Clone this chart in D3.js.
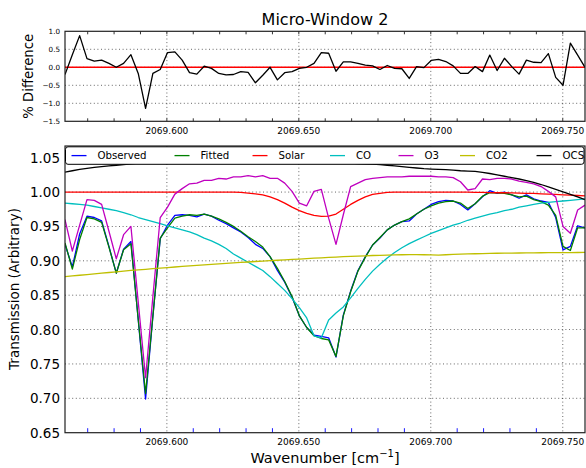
<!DOCTYPE html>
<html><head><meta charset="utf-8">
<script src="https://cdn.jsdelivr.net/npm/d3@7"></script>
<style>
body{margin:0;background:#fff}
svg{display:block}
text{font-family:"DejaVu Sans",sans-serif;fill:#000}
</style>
</head><body>
<svg id="chart" width="586" height="468"></svg>
<script>
// Spectral samples across micro-window 2 (wavenumber, cm^-1)
const wavenumber = [
  2069.56140, 2069.56418, 2069.56695, 2069.56973, 2069.57250, 2069.57528, 2069.57805, 2069.58083,
  2069.58360, 2069.58638, 2069.58915, 2069.59193, 2069.59470, 2069.59748, 2069.60025, 2069.60303,
  2069.60580, 2069.60858, 2069.61135, 2069.61413, 2069.61690, 2069.61968, 2069.62245, 2069.62523,
  2069.62800, 2069.63078, 2069.63355, 2069.63633, 2069.63910, 2069.64188, 2069.64465, 2069.64743,
  2069.65020, 2069.65298, 2069.65575, 2069.65853, 2069.66130, 2069.66408, 2069.66685, 2069.66963,
  2069.67240, 2069.67518, 2069.67795, 2069.68073, 2069.68350, 2069.68628, 2069.68905, 2069.69183,
  2069.69460, 2069.69738, 2069.70015, 2069.70293, 2069.70570, 2069.70848, 2069.71125, 2069.71403,
  2069.71680, 2069.71958, 2069.72235, 2069.72513, 2069.72790, 2069.73068, 2069.73345, 2069.73623,
  2069.73900, 2069.74178, 2069.74455, 2069.74733, 2069.75010, 2069.75288, 2069.75565, 2069.75843
];

// Residual between observed and fitted spectra (%)
const pctDiff = [
  -0.20, 0.35, 0.88, 0.24, 0.17, 0.20, 0.11, 0.00, 0.11, 0.35,
  -0.17, -1.14, -0.17, -0.06, 0.41, 0.43, 0.20, -0.15, -0.19, 0.03,
  -0.03, -0.17, -0.21, -0.20, -0.12, -0.14, -0.43, -0.22, 0.00, -0.35,
  -0.15, -0.12, -0.03, 0.00, 0.11, 0.41, 0.39, -0.11, 0.15, 0.15,
  0.11, 0.06, 0.04, -0.06, 0.05, -0.03, -0.04, -0.31, 0.02, -0.01,
  0.19, 0.22, 0.16, 0.04, -0.17, -0.17, 0.02, -0.12, 0.34, -0.09,
  0.25, 0.02, -0.19, 0.20, 0.14, 0.13, 0.38, -0.28, -0.50, 0.67,
  0.34, 0.00
];

const observed = [
  0.924, 0.891, 0.939, 0.965, 0.963, 0.958, 0.921, 0.882, 0.917, 0.928,
  0.814, 0.699, 0.819, 0.932, 0.952, 0.966, 0.967, 0.966, 0.964, 0.968,
  0.965, 0.959, 0.954, 0.948, 0.942, 0.934, 0.924, 0.918, 0.906, 0.886,
  0.869, 0.847, 0.820, 0.803, 0.792, 0.790, 0.788, 0.760, 0.821, 0.856,
  0.886, 0.906, 0.923, 0.933, 0.945, 0.952, 0.957, 0.958, 0.968, 0.975,
  0.982, 0.986, 0.988, 0.987, 0.982, 0.974, 0.983, 0.993, 1.002, 0.998,
  1.000, 0.996, 0.991, 0.996, 0.990, 0.987, 0.985, 0.963, 0.916, 0.921,
  0.951, 0.948
];

const fitted = [
  0.926, 0.888, 0.931, 0.963, 0.961, 0.956, 0.920, 0.882, 0.916, 0.925,
  0.815, 0.707, 0.820, 0.933, 0.948, 0.962, 0.965, 0.967, 0.966, 0.968,
  0.965, 0.961, 0.956, 0.950, 0.943, 0.935, 0.928, 0.920, 0.906, 0.889,
  0.870, 0.848, 0.820, 0.803, 0.791, 0.787, 0.785, 0.761, 0.820, 0.855,
  0.885, 0.905, 0.923, 0.934, 0.945, 0.952, 0.957, 0.961, 0.968, 0.975,
  0.980, 0.984, 0.986, 0.987, 0.984, 0.976, 0.983, 0.994, 0.999, 0.999,
  0.998, 0.996, 0.993, 0.994, 0.989, 0.986, 0.981, 0.966, 0.921, 0.915,
  0.948, 0.948
];

const solar = [
  1.000, 1.000, 1.000, 1.000, 1.000, 1.000, 1.000, 1.000, 1.000, 1.000,
  1.000, 1.000, 1.000, 1.000, 1.000, 1.000, 1.000, 1.000, 1.000, 1.000,
  1.000, 1.000, 1.000, 1.000, 0.9995, 0.9985, 0.9975, 0.996, 0.993, 0.989,
  0.984, 0.978, 0.973, 0.969, 0.966, 0.9645, 0.965, 0.968, 0.975, 0.982,
  0.988, 0.993, 0.9965, 0.998, 0.9995, 1.000, 1.000, 1.000, 1.000, 1.000,
  1.000, 1.000, 1.000, 1.000, 1.000, 1.000, 0.9995, 0.9995, 0.9993, 0.999,
  0.999, 0.9988, 0.9985, 0.998, 0.998, 0.9975, 0.997, 0.9965, 0.996, 0.9955,
  0.995, 0.9945
];

const co = [
  0.984, 0.983, 0.982, 0.981, 0.979, 0.977, 0.975, 0.973, 0.970, 0.967,
  0.963, 0.960, 0.957, 0.954, 0.951, 0.948, 0.945, 0.942, 0.938, 0.933,
  0.929, 0.924, 0.918, 0.910, 0.904, 0.898, 0.892, 0.886, 0.877, 0.867,
  0.857, 0.845, 0.832, 0.817, 0.791, 0.788, 0.814, 0.824, 0.833, 0.846,
  0.860, 0.873, 0.885, 0.895, 0.904, 0.912, 0.919, 0.925, 0.930, 0.935,
  0.940, 0.944, 0.948, 0.952, 0.955, 0.959, 0.962, 0.965, 0.968, 0.970,
  0.973, 0.975, 0.978, 0.980, 0.982, 0.984, 0.985, 0.986, 0.987, 0.988,
  0.989, 0.990
];

const o3 = [
  0.960, 0.914, 0.952, 0.989, 0.988, 0.982, 0.943, 0.903, 0.938, 0.950,
  0.840, 0.730, 0.848, 0.963, 0.978, 0.997, 1.005, 1.012, 1.013, 1.017,
  1.017, 1.020, 1.019, 1.022, 1.022, 1.024, 1.022, 1.024, 1.020, 1.020,
  1.013, 1.001, 0.984, 0.980, 1.001, 1.004, 0.962, 0.924, 0.967, 1.008,
  1.013, 1.018, 1.020, 1.021, 1.022, 1.022, 1.022, 1.023, 1.023, 1.023,
  1.023, 1.022, 1.022, 1.021, 1.015, 1.003, 1.005, 1.019, 1.018, 1.020,
  1.020, 1.019, 1.016, 1.014, 1.012, 1.008, 1.001, 0.993, 0.950, 0.940,
  0.974, 0.981
];

const co2 = [
  0.8770, 0.8780, 0.8790, 0.8800, 0.8810, 0.8820, 0.8830, 0.8840, 0.8850, 0.8860,
  0.8868, 0.8877, 0.8886, 0.8894, 0.8902, 0.8910, 0.8918, 0.8926, 0.8934, 0.8941,
  0.8948, 0.8955, 0.8962, 0.8969, 0.8976, 0.8983, 0.8990, 0.8996, 0.9002, 0.9008,
  0.9014, 0.9020, 0.9026, 0.9032, 0.9038, 0.9044, 0.9050, 0.9055, 0.9060, 0.9065,
  0.9069, 0.9073, 0.9077, 0.9080, 0.9083, 0.9086, 0.9088, 0.9090, 0.9090, 0.9088,
  0.9085, 0.9084, 0.9088, 0.9093, 0.9097, 0.9100, 0.9103, 0.9106, 0.9108, 0.9110,
  0.9112, 0.9113, 0.9114, 0.9115, 0.9116, 0.9117, 0.9118, 0.9119, 0.9120, 0.9120,
  0.9121, 0.9122
];

const ocs = [
  1.029, 1.031, 1.033, 1.0345, 1.036, 1.037, 1.038, 1.039, 1.040, 1.041,
  1.042, 1.043, 1.044, 1.0445, 1.045, 1.0455, 1.046, 1.0465, 1.047, 1.0472,
  1.0475, 1.0477, 1.0478, 1.048, 1.048, 1.048, 1.048, 1.0478, 1.0475, 1.047,
  1.0465, 1.046, 1.0455, 1.045, 1.0445, 1.044, 1.0435, 1.043, 1.0425, 1.042,
  1.0415, 1.041, 1.0405, 1.040, 1.039, 1.038, 1.037, 1.036, 1.035, 1.034,
  1.0335, 1.033, 1.0325, 1.032, 1.031, 1.0305, 1.030, 1.0285, 1.027, 1.025,
  1.023, 1.021, 1.019, 1.0165, 1.014, 1.011, 1.0075, 1.004, 1.0003, 0.9966,
  0.993, 0.989
];

const seriesNames = ["Observed", "Fitted", "Solar", "CO", "O3", "CO2", "OCS"];
const seriesValues = [observed, fitted, solar, co, o3, co2, ocs];
const seriesColors = ["#0000ff", "#008000", "#ff0000", "#00bfbf", "#bf00bf", "#bfbf00", "#000000"];

const diffTicks = [1.0, 0.5, 0.0, -0.5, -1.0, -1.5];
const transTicks = [1.05, 1.00, 0.95, 0.90, 0.85, 0.80, 0.75, 0.70, 0.65];
const waveTicks = [2069.60, 2069.65, 2069.70, 2069.75];

const svg = d3.select("#chart");
const left = 65, right = 585;
const top1 = 31.3, bot1 = 121.3;
const top2 = 146, bot2 = 432.7;

const x = d3.scaleLinear().domain([wavenumber[0], wavenumber[wavenumber.length - 1]]).range([left, right]);
const yDiff = d3.scaleLinear().domain([-1.5, 1.0]).range([bot1, top1]);
const yTrans = d3.scaleLinear().domain([0.65, 1.067]).range([bot2, top2]);
const minorTicks = x.ticks(20).filter(t => !waveTicks.some(w => Math.abs(w - t) < 1e-6));

const defs = svg.append("defs");
defs.append("clipPath").attr("id", "clipTop").append("rect")
  .attr("x", left).attr("y", top1).attr("width", right - left).attr("height", bot1 - top1);
defs.append("clipPath").attr("id", "clipBot").append("rect")
  .attr("x", left).attr("y", top2).attr("width", right - left).attr("height", bot2 - top2);

const fmtX = d3.format(".3f");

// dotted grid at the major ticks
function grid(g, yScale, yVals, y0, y1) {
  g.selectAll(null).data(yVals).join("line")
    .attr("x1", left).attr("x2", right)
    .attr("y1", d => yScale(d)).attr("y2", d => yScale(d))
    .attr("stroke", "#000").attr("stroke-width", 0.8).attr("stroke-dasharray", "1,2.6").attr("opacity", 0.75);
  g.selectAll(null).data(waveTicks).join("line")
    .attr("x1", d => x(d)).attr("x2", d => x(d))
    .attr("y1", y0).attr("y2", y1)
    .attr("stroke", "#000").attr("stroke-width", 0.8).attr("stroke-dasharray", "1,2.6").attr("opacity", 0.75);
}

// ---------- residual panel ----------
const gTop = svg.append("g");
grid(gTop, yDiff, diffTicks.filter(v => v > -1.5 && v < 1.0), top1, bot1);

gTop.selectAll(null).data(minorTicks.concat(waveTicks)).join("line")
  .attr("x1", d => x(d)).attr("x2", d => x(d))
  .attr("y1", top1).attr("y2", top1 + 3).attr("stroke", "#000").attr("stroke-width", 0.8);
gTop.selectAll(null).data(minorTicks.concat(waveTicks)).join("line")
  .attr("x1", d => x(d)).attr("x2", d => x(d))
  .attr("y1", bot1).attr("y2", bot1 - 3).attr("stroke", "#000").attr("stroke-width", 0.8);

const gTopData = gTop.append("g").attr("clip-path", "url(#clipTop)");
gTopData.append("line")
  .attr("x1", left).attr("x2", right).attr("y1", yDiff(0)).attr("y2", yDiff(0))
  .attr("stroke", "#ff0000").attr("stroke-width", 1.4);
gTopData.append("path")
  .datum(pctDiff)
  .attr("fill", "none").attr("stroke", "#000").attr("stroke-width", 1.3)
  .attr("stroke-linejoin", "round")
  .attr("d", d3.line().x((d, i) => x(wavenumber[i])).y(d => yDiff(d)));

gTop.append("rect").attr("x", left).attr("y", top1).attr("width", right - left).attr("height", bot1 - top1)
  .attr("fill", "none").attr("stroke", "#222").attr("stroke-width", 1.2);

gTop.selectAll(null).data(diffTicks).join("text")
  .attr("x", left - 5).attr("y", d => yDiff(d) + 2.5)
  .attr("text-anchor", "end").attr("font-size", 7.2)
  .text(d => d3.format(".1f")(d));
gTop.selectAll(null).data(waveTicks).join("text")
  .attr("x", d => x(d)).attr("y", bot1 + 12.5)
  .attr("text-anchor", "middle").attr("font-size", 9)
  .text(d => fmtX(d));

svg.append("text").attr("transform", `translate(33,${(top1 + bot1) / 2}) rotate(-90)`)
  .attr("text-anchor", "middle").attr("font-size", 13.2).text("% Difference");

svg.append("text").attr("x", (left + right) / 2).attr("y", 25)
  .attr("text-anchor", "middle").attr("font-size", 16).text("Micro-Window 2");

// ---------- transmission panel ----------
const gBot = svg.append("g");
grid(gBot, yTrans, transTicks.filter(v => v > 0.65), top2, bot2);

gBot.selectAll(null).data(minorTicks).join("line")
  .attr("x1", d => x(d)).attr("x2", d => x(d))
  .attr("y1", bot2).attr("y2", bot2 - 4.5).attr("stroke", "#0000ff").attr("stroke-width", 0.9);

const gBotData = gBot.append("g").attr("clip-path", "url(#clipBot)");
const lineT = d3.line().x((d, i) => x(wavenumber[i])).y(d => yTrans(d));
gBotData.selectAll(null).data(seriesValues).join("path")
  .attr("fill", "none")
  .attr("stroke", (d, i) => seriesColors[i])
  .attr("stroke-width", 1.3)
  .attr("stroke-linejoin", "round")
  .attr("d", d => lineT(d));

gBot.append("rect").attr("x", left).attr("y", top2).attr("width", right - left).attr("height", bot2 - top2)
  .attr("fill", "none").attr("stroke", "#222").attr("stroke-width", 1.2);

gBot.selectAll(null).data(transTicks).join("text")
  .attr("x", left - 5).attr("y", d => yTrans(d) + 5)
  .attr("text-anchor", "end").attr("font-size", 13.5)
  .text(d => d3.format(".2f")(d));
gBot.selectAll(null).data(waveTicks).join("text")
  .attr("x", d => x(d)).attr("y", bot2 + 12.5)
  .attr("text-anchor", "middle").attr("font-size", 9)
  .text(d => fmtX(d));

svg.append("text").attr("transform", `translate(19,289) rotate(-90)`)
  .attr("text-anchor", "middle").attr("font-size", 13.5).text("Transmission (Arbitrary)");

const xl = svg.append("text").attr("x", (left + right) / 2).attr("y", 463)
  .attr("text-anchor", "middle").attr("font-size", 14.5);
xl.append("tspan").text("Wavenumber [cm");
xl.append("tspan").attr("font-size", 10).attr("dy", -6).text("\u22121");
xl.append("tspan").attr("dy", 6).text("]");

// ---------- legend (one row across the top of the panel) ----------
const legendX = [71.5, 174.5, 252.5, 330, 398.5, 460, 536.5];
const leg = svg.append("g");
leg.append("rect").attr("x", left + 0.5).attr("y", top2 + 0.8).attr("width", right - left - 1.5).attr("height", 17.5)
  .attr("rx", 2.5).attr("fill", "#fff").attr("stroke", "#000").attr("stroke-width", 1);
const legY = top2 + 9.6;
seriesNames.forEach((name, i) => {
  leg.append("line").attr("x1", legendX[i]).attr("x2", legendX[i] + 15).attr("y1", legY).attr("y2", legY)
    .attr("stroke", seriesColors[i]).attr("stroke-width", 1.3);
  leg.append("text").attr("x", legendX[i] + 26).attr("y", legY + 3.8).attr("font-size", 10.2).text(name);
});
</script>
</body></html>
